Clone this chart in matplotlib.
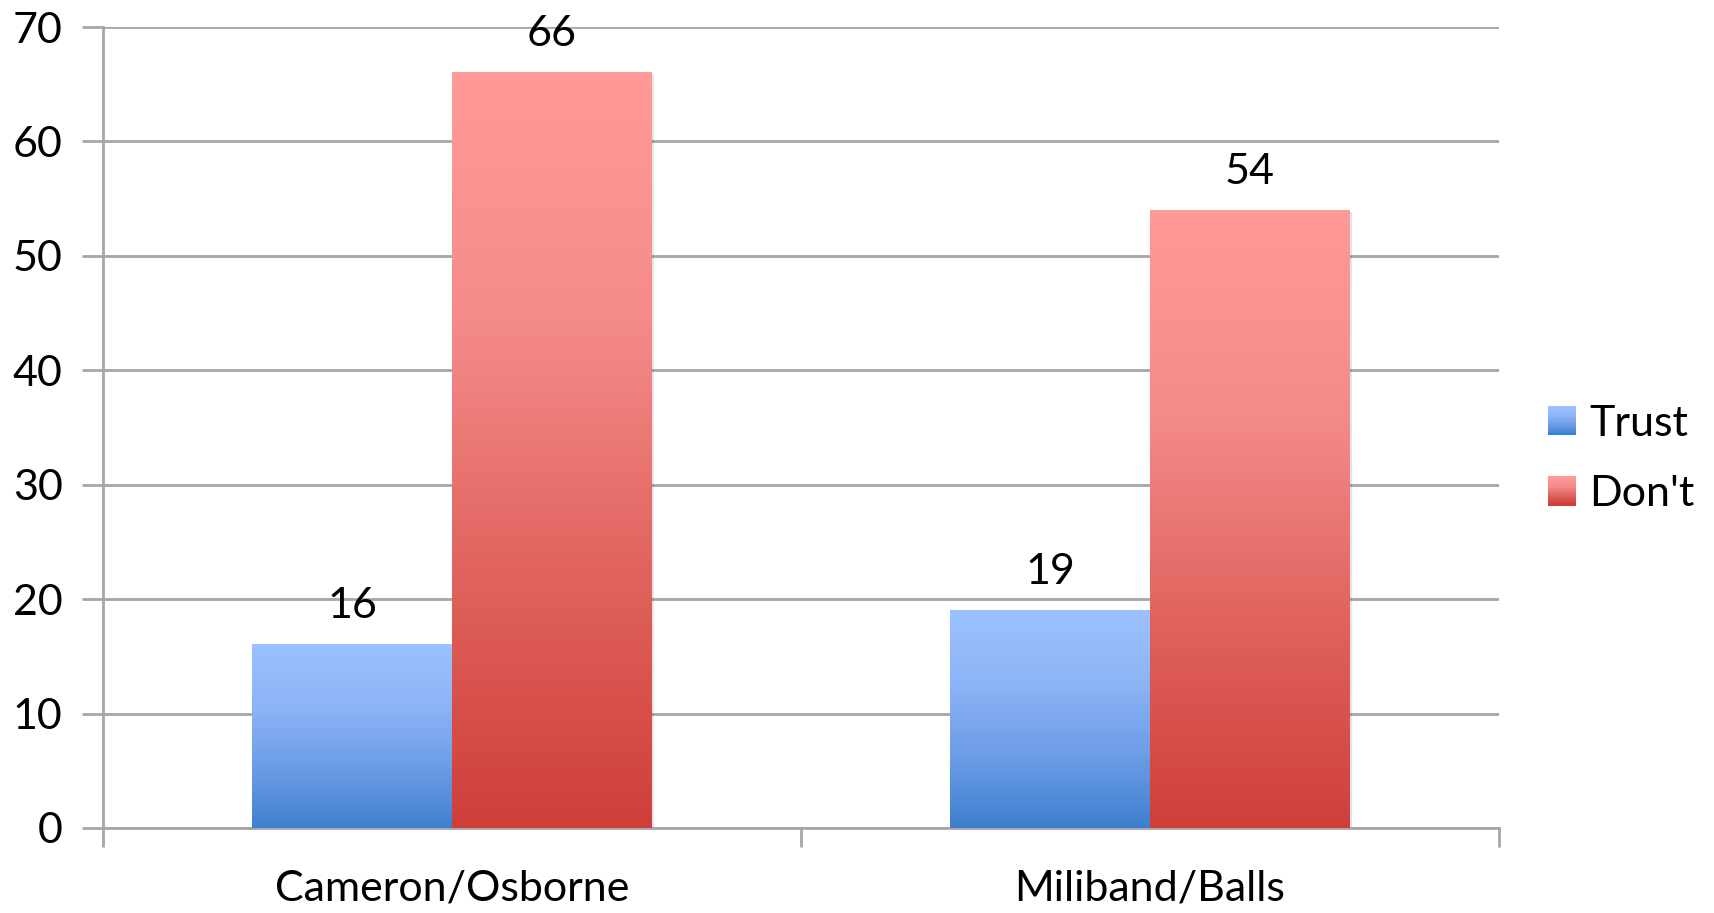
import matplotlib
matplotlib.use("Agg")
import matplotlib.pyplot as plt
import numpy as np
from matplotlib.colors import LinearSegmentedColormap
from matplotlib.legend_handler import HandlerPatch
from matplotlib.patches import Patch, Rectangle

plt.rcParams["font.family"] = ["Lato", "DejaVu Sans"]

CATEGORIES = ["Cameron/Osborne", "Miliband/Balls"]
SERIES = ["Trust", "Don't"]
TRUST = [16, 19]
DONT = [66, 54]
YTICKS = [0, 10, 20, 30, 40, 50, 60, 70]

# gradient top -> bottom for each series
GRAD = {
    "Trust": ["#9BC1FF", "#8DB4F6", "#6C9DE6", "#3F7FCF"],
    "Don't": ["#FF9A99", "#F48B89", "#E0625E", "#CF3F3A"],
}
GRID = "#A6A6A6"
FS = 31

CMAPS = {k: LinearSegmentedColormap.from_list(k, v) for k, v in GRAD.items()}


class GradientHandler(HandlerPatch):
    # legend square filled with the same vertical gradient as the bars
    def create_artists(self, legend, orig_handle, xdescent, ydescent, width, height,
                       fontsize, trans):
        cmap = CMAPS[orig_handle.get_label()]
        n = 20
        out = []
        for i in range(n):
            y = -ydescent + height * (n - 1 - i) / n
            r = Rectangle((-xdescent, y), width, height / n + 0.3,
                          facecolor=cmap(i / (n - 1)), edgecolor="none", transform=trans)
            out.append(r)
        return out


fig = plt.figure(figsize=(17.15, 9.13), dpi=100)
ax = fig.add_axes([0.060, 0.0931, 0.814, 0.8773])

x = np.arange(len(CATEGORIES))
w = 0.286
bars_t = ax.bar(x - w / 2, TRUST, w, color="none", linewidth=0, zorder=3)
bars_d = ax.bar(x + w / 2, DONT, w, color="none", linewidth=0, zorder=3)

grad = np.linspace(0, 1, 256).reshape(-1, 1)
for name, bars, vals in [("Trust", bars_t, TRUST), ("Don't", bars_d, DONT)]:
    for b, v in zip(bars, vals):
        x0, y0 = b.get_x(), b.get_y()
        bw, bh = b.get_width(), b.get_height()
        # faint shadow
        ax.add_patch(Rectangle((x0 + 0.004, y0 - 0.15), bw, bh, color="#000000",
                               alpha=0.10, linewidth=0, zorder=2))
        ax.imshow(grad, cmap=CMAPS[name], aspect="auto", extent=(x0, x0 + bw, y0, y0 + bh),
                  origin="upper", zorder=3, interpolation="bilinear")
        ax.text(x0 + bw / 2, v + 1.7, str(v), ha="center", va="bottom",
                fontsize=FS, color="black", zorder=4)

ax.set_xlim(-0.5, len(CATEGORIES) - 0.5)
ax.set_ylim(0, 70)
ax.set_yticks(YTICKS)
ax.set_yticklabels([str(t) for t in YTICKS], fontsize=FS)
ax.yaxis.grid(True, color=GRID, linewidth=2, zorder=1)
ax.set_axisbelow(True)

# category labels centred, ticks on category boundaries
ax.set_xticks(np.arange(-0.5, len(CATEGORIES), 1.0))
ax.set_xticklabels([])
ax.set_xticks(x, minor=True)
ax.set_xticklabels(CATEGORIES, minor=True, fontsize=FS)
ax.tick_params(axis="x", which="minor", length=0, pad=30)
ax.tick_params(axis="x", which="major", length=14, width=2, color=GRID)
ax.tick_params(axis="y", length=15, width=2, color=GRID, pad=14)

for s in ["top", "right"]:
    ax.spines[s].set_visible(False)
for s in ["left", "bottom"]:
    ax.spines[s].set_color(GRID)
    ax.spines[s].set_linewidth(2)

handles = [Patch(label=name) for name in SERIES]
leg = ax.legend(handles=handles, loc="center left", bbox_to_anchor=(1548 / 1715, 0.497),
                bbox_transform=fig.transFigure, frameon=False, fontsize=FS,
                handlelength=0.65, handleheight=0.65, handletextpad=0.3,
                labelspacing=0.75, borderaxespad=0, borderpad=0,
                handler_map={Patch: GradientHandler()})

fig.savefig("out.png", dpi=100, facecolor="white")
